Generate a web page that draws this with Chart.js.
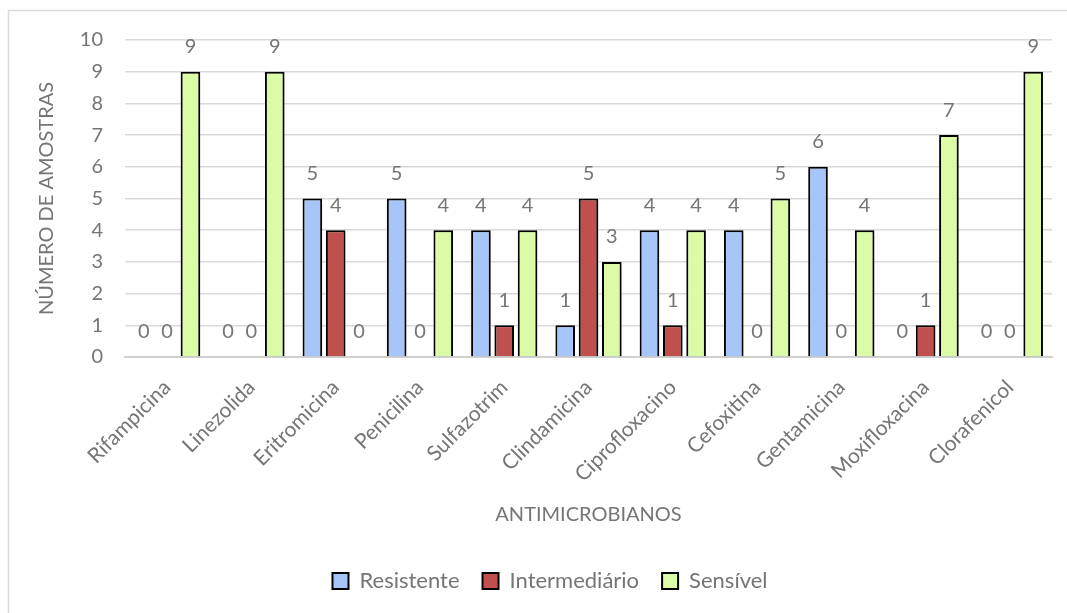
<!DOCTYPE html>
<html>

<head>
    <title>Antimicrobianos</title>
    <script src="https://cdn.jsdelivr.net/npm/chart.js"></script>
    <style>
        body { margin: 0; background: #fff; }
        #wrap { width: 1067px; height: 613px; }
    </style>
</head>

<body>
    <div id="wrap"><canvas id="chart"></canvas></div>
    <script>
        var categories = ['Rifampicina', 'Linezolida', 'Eritromicina', 'Penicilina', 'Sulfazotrim', 'Clindamicina',
            'Ciprofloxacino', 'Cefoxitina', 'Gentamicina', 'Moxifloxacina', 'Clorafenicol'];
        var resistente = [0, 0, 5, 5, 4, 1, 4, 4, 6, 0, 0];
        var intermediario = [0, 0, 4, 0, 1, 5, 1, 0, 0, 1, 0];
        var sensivel = [9, 9, 0, 4, 4, 3, 4, 5, 4, 7, 9];
        var yTicks = [0, 1, 2, 3, 4, 5, 6, 7, 8, 9, 10];

        var grey = '#757575';
        var fontFamily = 'Lato, "Open Sans", sans-serif';

        // outer frame + white background
        var framePlugin = {
            id: 'frame',
            beforeDraw: function (chart) {
                var c = chart.ctx;
                c.save();
                c.fillStyle = '#fff';
                c.fillRect(0, 0, chart.width, chart.height);
                c.strokeStyle = '#d9d9d9';
                c.lineWidth = 1.5;
                c.strokeRect(8.5, 10.5, chart.width + 20, chart.height + 20);
                c.restore();
            },
            // legend sits a bit right of the chart centre in the original
            afterLayout: function (chart) {
                if (chart.legend) {
                    chart.legend.left += 20;
                    chart.legend.right += 20;
                }
            }
        };

        // value labels above each bar
        var valueLabels = {
            id: 'valueLabels',
            afterDatasetsDraw: function (chart) {
                var c = chart.ctx;
                c.save();
                c.font = '20px ' + fontFamily;
                c.fillStyle = grey;
                c.textAlign = 'center';
                c.textBaseline = 'middle';
                chart.data.datasets.forEach(function (ds, i) {
                    chart.getDatasetMeta(i).data.forEach(function (bar, j) {
                        c.fillText(ds.data[j], bar.x, bar.y - 25);
                    });
                });
                c.restore();
            }
        };

        // soft shadow under bars
        var barShadow = {
            id: 'barShadow',
            beforeDatasetsDraw: function (chart) {
                var c = chart.ctx;
                c.save();
                c.shadowColor = 'rgba(0,0,0,0.22)';
                c.shadowBlur = 4;
                c.shadowOffsetX = 2;
                c.shadowOffsetY = 2;
            },
            afterDatasetsDraw: function (chart) {
                chart.ctx.restore();
            }
        };

        var ctx = document.getElementById('chart').getContext('2d');
        var chart = new Chart(ctx, {
            type: 'bar',
            data: {
                labels: categories,
                datasets: [{
                    label: 'Resistente',
                    data: resistente,
                    backgroundColor: '#a6c6fa',
                    borderColor: '#000',
                    borderWidth: 2
                }, {
                    label: 'Intermediário',
                    data: intermediario,
                    backgroundColor: '#c0504d',
                    borderColor: '#000',
                    borderWidth: 2
                }, {
                    label: 'Sensível',
                    data: sensivel,
                    backgroundColor: '#dbfba6',
                    borderColor: '#000',
                    borderWidth: 2
                }]
            },
            options: {
                responsive: true,
                maintainAspectRatio: false,
                animation: false,
                categoryPercentage: 0.83,
                barPercentage: 0.84,
                layout: {
                    padding: { left: 8, top: 40, right: 15, bottom: 11 }
                },
                plugins: {
                    legend: {
                        position: 'bottom',
                        labels: {
                            boxWidth: 16,
                            boxHeight: 16,
                            padding: 23,
                            color: grey,
                            font: { family: fontFamily, size: 22 }
                        }
                    },
                    tooltip: { enabled: false }
                },
                scales: {
                    x: {
                        grid: { display: false },
                        border: { color: '#d0d0d0', width: 2 },
                        ticks: {
                            color: grey,
                            font: { family: fontFamily, size: 21 },
                            minRotation: 45,
                            maxRotation: 45,
                            padding: 10
                        },
                        title: {
                            display: true,
                            text: 'ANTIMICROBIANOS',
                            color: grey,
                            font: { family: fontFamily, size: 20 },
                            padding: { top: 0, bottom: 20 }
                        },
                        afterFit: function (scale) { scale.height = 190; }
                    },
                    y: {
                        min: 0,
                        max: 10,
                        afterBuildTicks: function (scale) {
                            scale.ticks = yTicks.map(function (v) { return { value: v }; });
                        },
                        grid: { color: '#d9d9d9', lineWidth: 1.5, drawTicks: false },
                        border: { display: false },
                        ticks: {
                            color: grey,
                            font: { family: fontFamily, size: 20 },
                            padding: 22
                        },
                        title: {
                            display: true,
                            text: 'NÚMERO DE AMOSTRAS',
                            color: grey,
                            font: { family: fontFamily, size: 20 },
                            padding: { top: 27, bottom: 0 }
                        },
                        afterFit: function (scale) { scale.width = 117; }
                    }
                }
            },
            plugins: [framePlugin, barShadow, valueLabels]
        });
    </script>
</body>

</html>
